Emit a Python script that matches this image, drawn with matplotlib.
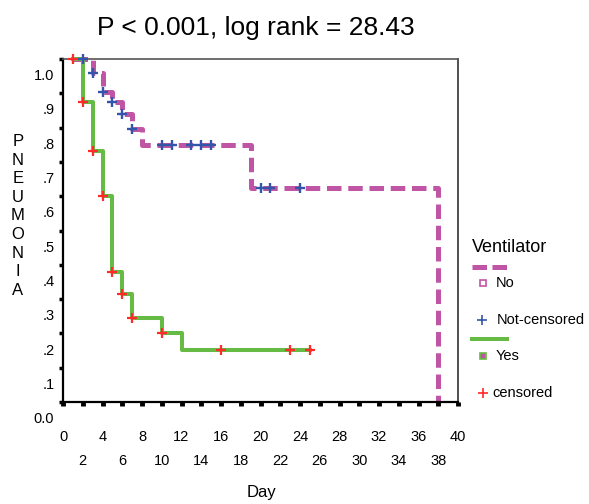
import matplotlib
matplotlib.use("Agg")
import matplotlib.pyplot as plt
from matplotlib.lines import Line2D
from matplotlib.transforms import blended_transform_factory

plt.rcParams['font.family'] = ['Liberation Sans', 'DejaVu Sans']

# Ventilator = No  (step times / survival level after the step)
no_t = [1, 3, 4, 5, 6, 7, 8, 19, 38]
no_s = [1.0, 0.96, 0.905, 0.875, 0.84, 0.796, 0.749, 0.624, 0.0]
no_cens_t = [2, 3, 4, 5, 6, 7, 10, 11, 13, 14, 15, 20, 21, 24]
no_cens_s = [1.0, 0.96, 0.905, 0.875, 0.84, 0.796, 0.749, 0.749, 0.749, 0.749, 0.749,
             0.624, 0.624, 0.624]

# Ventilator = Yes
yes_t = [1, 2, 3, 4, 5, 6, 7, 10, 12, 25]
yes_s = [1.0, 0.875, 0.732, 0.60, 0.379, 0.315, 0.245, 0.20, 0.152, 0.152]
yes_cens_t = [1, 2, 3, 4, 5, 6, 7, 10, 16, 23, 25]
yes_cens_s = [1.0, 0.875, 0.732, 0.60, 0.379, 0.315, 0.245, 0.20, 0.152, 0.152, 0.152]

y_vals = [0.0, 0.1, 0.2, 0.3, 0.4, 0.5, 0.6, 0.7, 0.8, 0.9, 1.0]
y_labels = ['0.0', '.1', '.2', '.3', '.4', '.5', '.6', '.7', '.8', '.9', '1.0']
x_major = [0, 4, 8, 12, 16, 20, 24, 28, 32, 36, 40]
x_minor = [2, 6, 10, 14, 18, 22, 26, 30, 34, 38]

MAG = '#C055A5'
GRN = '#66BB44'
RED = '#FF2A2A'
BLU = '#3355AA'

W, H = 589, 504


def px(x, y):
    return x / W, 1 - y / H


fig = plt.figure(figsize=(W / 100, H / 100), dpi=100)
ax = fig.add_axes([63 / W, 1 - 402 / H, (458 - 63) / W, (402 - 59) / H])

ax.step(no_t, no_s, where='post', color=MAG, lw=3.6, dashes=(2.9, 1.35),
        dash_capstyle='butt', clip_on=False, zorder=2)
ax.step(yes_t, yes_s, where='post', color=GRN, lw=2.9, clip_on=False, zorder=3)
ax.plot(no_cens_t, no_cens_s, '+', color=BLU, ms=7, mew=1.7, clip_on=False, zorder=4)
ax.plot(yes_cens_t, yes_cens_s, '+', color=RED, ms=7, mew=1.6, clip_on=False, zorder=5)

ax.set_xlim(0, 40)
ax.set_ylim(0, 1)

ax.set_yticks(y_vals)
ax.set_yticklabels([])
ax.tick_params(axis='y', direction='out', length=3, width=2.5, color='black')
trans = blended_transform_factory(ax.transAxes, ax.transData)
for v, lab in zip(y_vals, y_labels):
    ax.text(-0.022, v - 0.05, lab, transform=trans, ha='right', va='center',
            fontsize=10.5, clip_on=False)

ax.set_xticks(x_major)
ax.set_xticklabels([str(v) for v in x_major], fontsize=10.5)
ax.set_xticks(x_minor, minor=True)
ax.set_xticklabels([str(v) for v in x_minor], minor=True, fontsize=10.5)
ax.tick_params(axis='x', which='major', direction='out', length=3, width=3.5, pad=17)
ax.tick_params(axis='x', which='minor', direction='out', length=3, width=3.5, pad=34.5)

for s in ['left', 'bottom']:
    ax.spines[s].set_linewidth(1.6)
    ax.spines[s].set_color('black')
ax.spines['top'].set_linewidth(1.2)
ax.spines['top'].set_color('#555555')
ax.spines['right'].set_linewidth(1.2)
ax.spines['right'].set_color('#333333')

fig.text(*px(256, 28), 'P < 0.001, log rank = 28.43', ha='center', va='center', fontsize=19)
fig.text(*px(262, 492), 'Day', ha='center', va='center', fontsize=12)
fig.text(*px(18, 216), '\n'.join('PNEUMONIA'), ha='center', va='center',
         fontsize=12, linespacing=1.30, multialignment='center')

# legend
fig.text(*px(472, 248), 'Ventilator', ha='left', va='center', fontsize=13)
fig.add_artist(Line2D([472 / W, 507 / W], [1 - 267 / H] * 2, color=MAG, lw=3.6,
                      dashes=(2.9, 1.1), dash_capstyle='butt'))
fig.add_artist(Line2D([483 / W], [1 - 283 / H], marker='s', ms=4.5, mfc='white',
                      mec=MAG, mew=1.2))
fig.text(*px(496, 283), 'No', ha='left', va='center', fontsize=10.5)
fig.add_artist(Line2D([482 / W], [1 - 320 / H], marker='+', ms=7, color=BLU, mew=1.2))
fig.text(*px(497, 320), 'Not-censored', ha='left', va='center', fontsize=10.5)
fig.add_artist(Line2D([472 / W, 507 / W], [1 - 339 / H] * 2, color=GRN, lw=2.9))
fig.add_artist(Line2D([483 / W], [1 - 356 / H], marker='s', ms=4.5, mfc=MAG,
                      mec=GRN, mew=1.2))
fig.text(*px(496, 356), 'Yes', ha='left', va='center', fontsize=10.5)
fig.add_artist(Line2D([483 / W], [1 - 393 / H], marker='+', ms=7, color=RED, mew=1.2))
fig.text(*px(492, 393), 'censored', ha='left', va='center', fontsize=10.5)

fig.savefig('out.png', dpi=100)
